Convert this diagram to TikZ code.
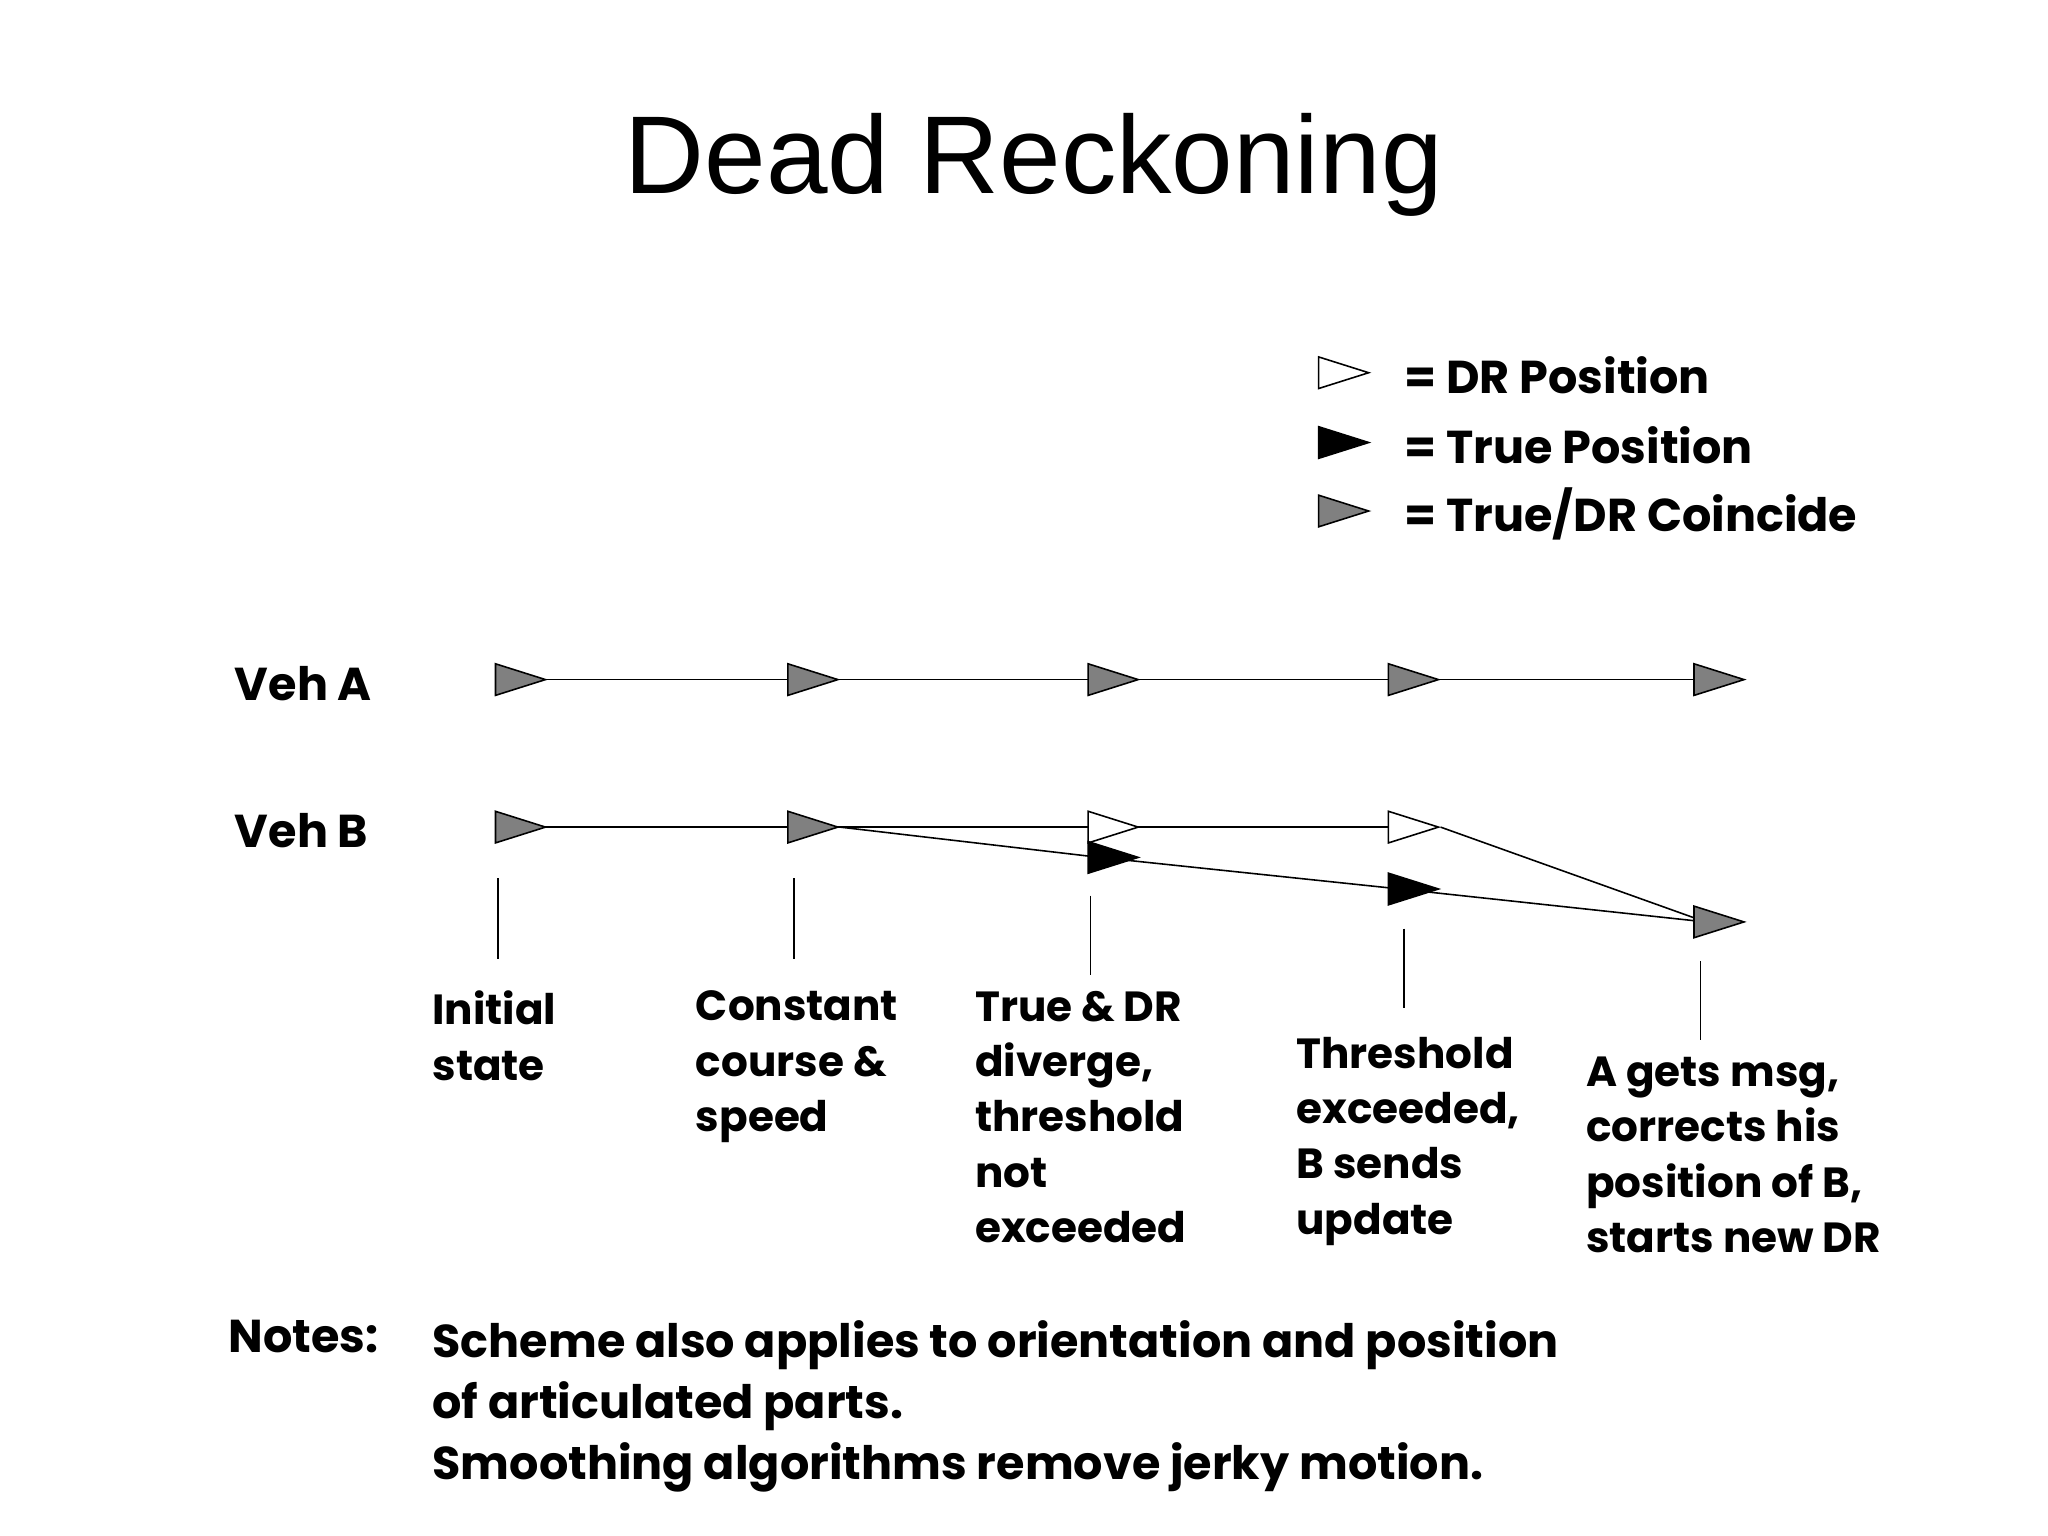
\documentclass[tikz,border=0pt]{standalone}
\usepackage{fontspec}
\setmainfont{Poppins}
\newfontfamily\titlefont{Liberation Sans}
\usetikzlibrary{shapes.geometric,backgrounds}
\begin{document}
\begin{tikzpicture}[x=0.5pt,y=-0.5pt,
  tri/.style={isosceles triangle,isosceles triangle stretches=true,draw=black,line width=0.6pt,inner sep=0pt,minimum width=12pt,minimum height=19pt,anchor=center},
  gtri/.style={tri,fill=black!50},
  wtri/.style={tri,fill=white},
  btri/.style={tri,fill=black},
  lbl/.style={font=\bfseries\fontsize{16pt}{21pt}\selectfont,anchor=north west,align=left,inner sep=0pt},
  big/.style={font=\bfseries\fontsize{17.5pt}{22pt}\selectfont},
  tick/.style={line width=0.6pt},
  conn/.style={line width=0.6pt}]
\useasboundingbox (0,0) rectangle (1555,1166);
\node (title) at (785,125) {\titlefont\fontsize{42pt}{50pt}\selectfont Dead Reckoning};
% legend
\node[wtri] (lw) at (1010,283) {};
\node[btri] (lb) at (1010,336) {};
\node[gtri] (lg) at (1010,388) {};
\node[lbl,anchor=west,big] (tw) at (1066,285) {= DR Position};
\node[lbl,anchor=west,big] (tb) at (1066,338) {= True Position};
\node[lbl,anchor=west,big] (tg) at (1066,390) {= True/DR Coincide};
% vehicles
\node[lbl,anchor=west,big] (va) at (178,519) {Veh A};
\node[lbl,anchor=west,big] (vb) at (178,631) {Veh B};
\node[gtri] (a1) at (385,516) {};
\node[gtri] (a2) at (607,516) {};
\node[gtri] (a3) at (835,516) {};
\node[gtri] (a4) at (1063,516) {};
\node[gtri] (a5) at (1295,516) {};
\node[gtri] (b1) at (385,628) {};
\node[gtri] (b2) at (607,628) {};
\node[wtri] (b3) at (835,628) {};
\node[wtri] (b4) at (1063,628) {};
\node[btri] (c3) at (835,651) {};
\node[btri] (c4) at (1063,675) {};
\node[gtri] (b5) at (1295,700) {};
\begin{scope}[on background layer]
\draw[conn] (a1.center) -- (a2.center) -- (a3.center) -- (a4.center) -- (a5.center);
\draw[conn] (b1.center) -- (b2.center) -- (b3.center) -- (b4.center);
\draw[conn] (b2.apex) -- (c3.center) -- (c4.center) -- (b5.center);
\draw[conn] (b4.apex) -- (b5.center);
\end{scope}
% ticks
\coordinate (t1a) at (378,667); \coordinate (t1b) at (378,728);
\coordinate (t2a) at (603,667); \coordinate (t2b) at (603,728);
\coordinate (t3a) at (828,680); \coordinate (t3b) at (828,740);
\coordinate (t4a) at (1066,705); \coordinate (t4b) at (1066,765);
\coordinate (t5a) at (1291,730); \coordinate (t5b) at (1291,790);
\draw[tick] (t1a)--(t1b); \draw[tick] (t2a)--(t2b); \draw[tick] (t3a)--(t3b);
\draw[tick] (t4a)--(t4b); \draw[tick] (t5a)--(t5b);
% labels
\node[lbl] (l1) at (328,752) {Initial\\state};
\node[lbl] (l2) at (528,752) {Constant\\course \&\\speed};
\node[lbl] (l3) at (740,752) {True \& DR\\diverge,\\threshold\\not\\exceeded};
\node[lbl] (l4) at (984,787) {Threshold\\exceeded,\\B sends\\update};
\node[lbl] (l5) at (1204,802) {A gets msg,\\corrects his\\position of B,\\starts new DR};
% notes
\node[lbl,font=\bfseries\fontsize{17.5pt}{23.3pt}\selectfont] (nl) at (173,1002) {Notes:};
\node[lbl,font=\bfseries\fontsize{17.5pt}{23.3pt}\selectfont] (nt) at (328,1002) {Scheme also applies to orientation and position\\of articulated parts.\\Smoothing algorithms remove jerky motion.};
\end{tikzpicture}
\end{document}
